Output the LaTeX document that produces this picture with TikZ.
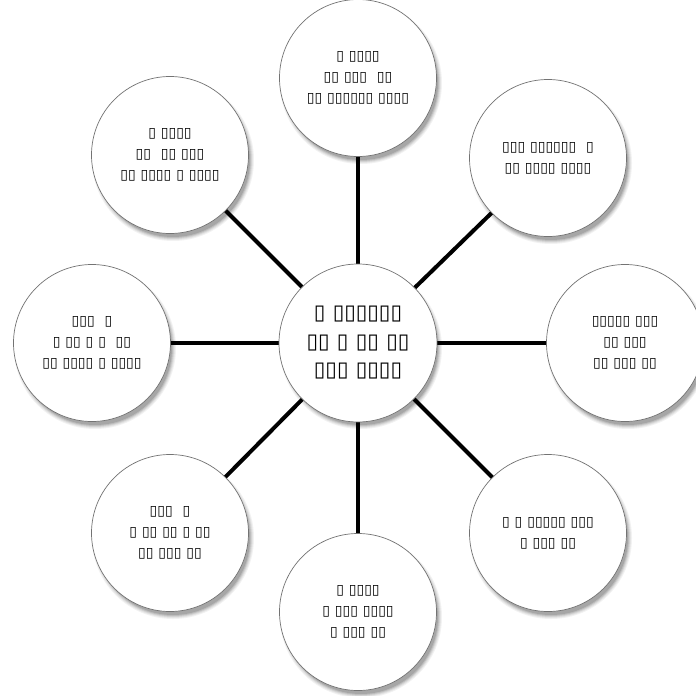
\documentclass[tikz,border=0pt]{standalone}
\usepackage{fontspec}
\newfontfamily\boxfont{DejaVu Sans}
\usetikzlibrary{backgrounds,calc}
\tikzset{
  bubble/.style={circle, draw=black!55, line width=0.7pt, fill=white,
    minimum size=157pt, inner sep=0pt, align=center,
    font=\boxfont\bfseries\fontsize{14}{21}\selectfont},
  hub/.style={bubble, minimum size=158pt, font=\boxfont\bfseries\fontsize{21}{28.5}\selectfont},
  spoke/.style={line width=4pt, black},
}
% soft shadow under a bubble
\newcommand\softshadow[1]{%
  \foreach \r/\o in {81/0.05,80/0.06,79/0.08,78/0.1,77/0.12}{%
    \fill[black, opacity=\o] ($(#1)+(3,5)$) circle (\r pt);}}
\begin{document}
\begin{tikzpicture}[x=1pt, y=-1pt]
  \useasboundingbox (0,0) rectangle (696,696);
  % shadows
  \foreach \p in {{358,343},{358,78},{170,155},{548,158},{625,343},{548,533},{358,612},{170,533},{92,343}}{
    \softshadow{\p}}
  % hub and satellites
  \node[hub] (c) at (358,343) {▯ ▯▯▯▯▯▯\\▯▯ ▯ ▯▯ ▯▯\\▯▯▯ ▯▯▯▯};
  \node[bubble] (n) at (358,78) {▯ ▯▯▯▯\\▯▯ ▯▯▯ ~▯▯\\▯▯ ▯▯▯▯▯▯ ▯▯▯▯};
  \node[bubble] (nw) at (170,155) {▯ ▯▯▯▯\\▯▯ ~▯▯ ▯▯▯\\▯▯ ▯▯▯▯ ▯ ▯▯▯▯};
  \node[bubble] (ne) at (548,158) {▯▯▯ ▯▯▯▯▯▯ ~▯\\▯▯ ▯▯▯▯ ▯▯▯▯};
  \node[bubble] (e) at (625,343) {▯▯▯▯▯ ▯▯▯\\▯▯ ▯▯▯\\▯▯ ▯▯▯ ▯▯};
  \node[bubble] (se) at (548,533) {▯ ▯ ▯▯▯▯▯ ▯▯▯\\▯ ▯▯▯ ▯▯};
  \node[bubble] (s) at (358,612) {▯ ▯▯▯▯\\▯ ▯▯▯ ▯▯▯▯\\▯ ▯▯▯ ▯▯};
  \node[bubble] (sw) at (170,533) {▯▯▯ ~▯\\▯ ▯▯ ▯▯ ▯ ▯▯\\▯▯ ▯▯▯ ▯▯};
  \node[bubble] (w) at (92,343) {▯▯▯ ~▯\\▯ ▯▯ ▯ ▯ ~▯▯\\▯▯ ▯▯▯▯ ▯ ▯▯▯▯};
  % spokes behind the bubbles
  \begin{scope}[on background layer]
    \foreach \t in {n,nw,ne,e,se,s,sw,w}{\draw[spoke] (c.center) -- (\t.center);}
  \end{scope}
\end{tikzpicture}
\end{document}
